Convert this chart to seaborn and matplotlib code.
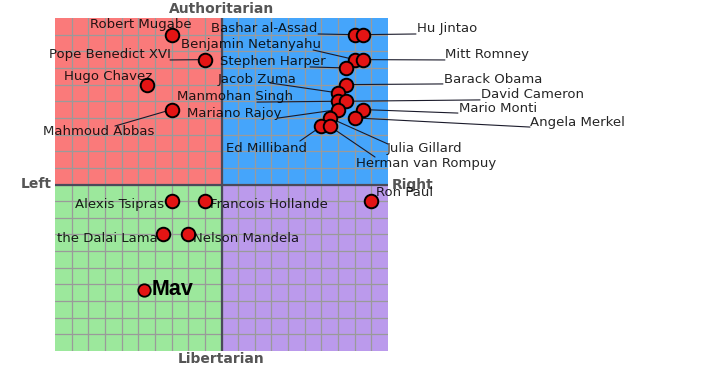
import matplotlib
matplotlib.use("Agg")
import matplotlib.pyplot as plt
import seaborn as sns
import pandas as pd

names = ["Robert Mugabe", "Pope Benedict XVI", "Hugo Chavez", "Mahmoud Abbas",
         "Bashar al-Assad", "Hu Jintao", "Benjamin Netanyahu", "Mitt Romney",
         "Stephen Harper", "Barack Obama", "Jacob Zuma", "Manmohan Singh",
         "David Cameron", "Mariano Rajoy", "Mario Monti", "Angela Merkel",
         "Julia Gillard", "Ed Milliband", "Herman van Rompuy",
         "Alexis Tsipras", "Francois Hollande", "the Dalai Lama", "Nelson Mandela",
         "Ron Paul"]
econ = [-3, -1, -4.5, -3, 8, 8.5, 8, 8.5, 7.5, 7.5, 7, 7, 7.5, 7, 8.5, 8,
        6.5, 6, 6.5, -3, -1, -3.5, -2, 9]
social = [9, 7.5, 6, 4.5, 9, 9, 7.5, 7.5, 7, 6, 5.5, 5, 5, 4.5, 4.5, 4,
          4, 3.5, 3.5, -1, -1, -3, -3, -1]

me_name = "Mav"
me_econ = [-4.63]
me_social = [-6.31]

# label anchor (left edge, vertical centre) in chart units
label_pos = {
    "Robert Mugabe": (-7.9, 9.58), "Pope Benedict XVI": (-10.36, 7.78),
    "Hugo Chavez": (-9.46, 6.46), "Mahmoud Abbas": (-10.72, 3.21),
    "Bashar al-Assad": (-0.63, 9.34), "Hu Jintao": (11.74, 9.34),
    "Benjamin Netanyahu": (-2.43, 8.38), "Mitt Romney": (13.42, 7.78),
    "Stephen Harper": (-0.09, 7.36), "Barack Obama": (13.36, 6.28),
    "Jacob Zuma": (-0.21, 6.28), "Manmohan Singh": (-2.67, 5.26),
    "David Cameron": (15.59, 5.38), "Mariano Rajoy": (-2.07, 4.29),
    "Mario Monti": (14.26, 4.59), "Angela Merkel": (18.53, 3.75),
    "Julia Gillard": (9.94, 2.19), "Ed Milliband": (0.27, 2.19),
    "Herman van Rompuy": (8.08, 1.29), "Alexis Tsipras": (-8.80, -1.23),
    "Francois Hollande": (-0.69, -1.23), "the Dalai Lama": (-9.88, -3.27),
    "Nelson Mandela": (-1.71, -3.27), "Ron Paul": (9.28, -0.51),
}
# leader line far ends
leader = {
    "Pope Benedict XVI": (-3.09, 7.48), "Mahmoud Abbas": (-6.40, 3.51),
    "Bashar al-Assad": (5.80, 9.04), "Hu Jintao": (11.68, 9.04),
    "Benjamin Netanyahu": (5.50, 8.08), "Mitt Romney": (13.42, 7.48),
    "Stephen Harper": (5.32, 7.06), "Barack Obama": (13.30, 6.04),
    "Jacob Zuma": (2.91, 6.10), "Manmohan Singh": (2.13, 4.95),
    "David Cameron": (15.53, 5.08), "Mariano Rajoy": (3.39, 3.99),
    "Mario Monti": (14.20, 4.29), "Angela Merkel": (18.53, 3.45),
    "Julia Gillard": (10.0, 2.43), "Ed Milliband": (4.71, 2.61),
    "Herman van Rompuy": (9.22, 1.65),
}

df = pd.DataFrame({"name": names, "econ": econ, "social": social})
me = pd.DataFrame({"name": [me_name], "econ": me_econ, "social": me_social})

sns.set_style("white")
plt.rcParams["font.family"] = ["DejaVu Sans"]

fig = plt.figure(figsize=(7.2, 3.69), dpi=100)
ax = fig.add_axes([55 / 720, 18 / 369, 333 / 720, 333 / 369])
ax.set_xlim(-10, 10)
ax.set_ylim(-10, 10)

# quadrants
ax.fill_between([-10, 0], 0, 10, color="#fa7a7a", lw=0, zorder=0)
ax.fill_between([0, 10], 0, 10, color="#45a5fb", lw=0, zorder=0)
ax.fill_between([-10, 0], -10, 0, color="#9ce89c", lw=0, zorder=0)
ax.fill_between([0, 10], -10, 0, color="#bb9aec", lw=0, zorder=0)

for v in range(-9, 10):
    ax.axvline(v, color="#9a9a9a", lw=0.9, zorder=1)
    ax.axhline(v, color="#9a9a9a", lw=0.9, zorder=1)
ax.axvline(0, color="#4a4a5a", lw=1.6, zorder=2)
ax.axhline(0, color="#4a4a5a", lw=1.6, zorder=2)

ax.set_xticks([])
ax.set_yticks([])
for s in ax.spines.values():
    s.set_visible(False)

# leader lines
for n, (ex, ey) in leader.items():
    i = names.index(n)
    ax.plot([econ[i], ex], [social[i], ey], color="#1a1a2a", lw=0.8,
            zorder=3, clip_on=False)

sns.scatterplot(data=df, x="econ", y="social", ax=ax, color="#e31414",
                edgecolor="black", linewidth=1.4, s=95, zorder=5, clip_on=False,
                legend=False)
sns.scatterplot(data=me, x="econ", y="social", ax=ax, color="#e31414",
                edgecolor="black", linewidth=1.3, s=80, zorder=5, legend=False)
ax.set_xlabel("")
ax.set_ylabel("")

for n, (lx, ly) in label_pos.items():
    ax.text(lx, ly, n, ha="left", va="center", fontsize=9.5, color="black",
            alpha=0.85, zorder=6, clip_on=False)

ax.text(-4.2, -6.28, me_name, ha="left", va="center", fontsize=15.5,
        fontweight="bold", family=["Liberation Sans"], color="black", zorder=6)

lab = dict(color="#555555", fontweight="bold", fontsize=10)
ax.text(0, 10.55, "Authoritarian", ha="center", va="center", **lab)
ax.text(0, -10.5, "Libertarian", ha="center", va="center", **lab)
ax.text(-10.2, 0, "Left", ha="right", va="center", **lab)
ax.text(10.25, 0, "Right", ha="left", va="center", **lab)

fig.savefig("out.png", dpi=100)
